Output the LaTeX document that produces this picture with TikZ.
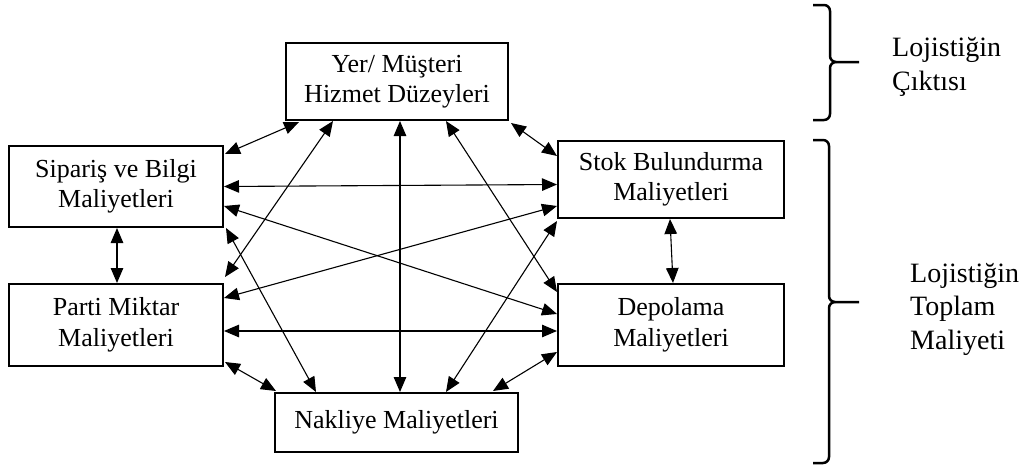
\documentclass[tikz,border=0pt]{standalone}
\usepackage{fontspec}
\setmainfont{Liberation Serif}
\usetikzlibrary{arrows.meta,calc}
\begin{document}
\begin{tikzpicture}[x=1pt,y=-1pt,
  costbox/.style={draw, line width=2pt, align=center, inner sep=0pt,
    font=\fontsize{26}{30.5}\selectfont},
  link/.style={line width=1.1pt,
    {Triangle[length=15pt,width=12.5pt]}-{Triangle[length=15pt,width=12.5pt]}},
  bracket/.style={line width=2.5pt, line join=round},
  sidelabel/.style={align=left, anchor=base west, inner sep=0pt,
    font=\fontsize{28}{33.5}\selectfont}]
\useasboundingbox (0,0) rectangle (1024,471);

% cost and output boxes
\node[costbox, minimum width=222pt, minimum height=77pt] (musteri) at (397,81.5) {Yer/ Müşteri\\Hizmet Düzeyleri};
\node[costbox, minimum width=214pt, minimum height=81pt] (siparis) at (116,186.5) {Sipariş ve Bilgi\\Maliyetleri};
\node[costbox, minimum width=214pt, minimum height=82pt] (parti) at (116,325) {Parti Miktar\\Maliyetleri};
\node[costbox, minimum width=226pt, minimum height=77pt] (stok) at (671,179.5) {Stok Bulundurma\\Maliyetleri};
\node[costbox, minimum width=226pt, minimum height=82pt] (depo) at (671,325) {Depolama\\Maliyetleri};
\node[costbox, minimum width=243pt, minimum height=59pt] (nakliye) at (396.5,422.5) {Nakliye Maliyetleri};

% two-way trade-off links between every pair of boxes
\draw[link] ($(musteri.south west)+(14,1)$) -- ($(siparis.north east)+(1,9)$);
\draw[link] ($(musteri.south east)+(2,2)$) -- ($(stok.north west)+(0,16)$);
\draw[link] ($(musteri.south)+(3,0)$) -- ($(nakliye.north)+(3.5,0)$);
\draw[link] ($(musteri.south west)+(48,0)$) -- ($(parti.north east)+(1,-6)$);
\draw[link] ($(musteri.south west)+(161,0)$) -- ($(depo.north west)+(0,9)$);
\draw[link] (siparis.east) -- ($(stok.west)+(0,5)$);
\draw[link] ($(siparis.east)+(0,19.5)$) -- ($(depo.west)+(0,-11)$);
\draw[link] ($(siparis.south east)+(2,0)$) -- ($(nakliye.north west)+(42,0)$);
\draw[link] ($(siparis.south)+(1,0)$) -- ($(parti.north)+(1,0)$);
\draw[link] ($(parti.north east)+(0,15)$) -- ($(stok.south west)+(0,-13)$);
\draw[link] ($(parti.east)+(0,6)$) -- ($(depo.west)+(0,6)$);
\draw[link] ($(parti.south east)+(1,-5)$) -- ($(nakliye.north west)+(2,-1)$);
\draw[link] ($(stok.south)+(-1,0)$) -- ($(depo.north)+(2,0)$);
\draw[link] ($(stok.south west)+(0,2)$) -- ($(nakliye.north west)+(172,0)$);
\draw[link] ($(depo.south west)+(0,-15)$) -- ($(nakliye.north east)+(-26,-1)$);

% grouping braces
\draw[bracket] (813,5) -- (824,5) to[out=0,in=90] (830,11) -- (830,56)
  to[out=-90,in=180] (836,62) -- (859,62);
\draw[bracket] (836,62) to[out=180,in=90] (830,68) -- (830,114)
  to[out=-90,in=0] (824,120) -- (813,120);
\draw[bracket] (813,140) -- (823,140) to[out=0,in=90] (829,146) -- (829,296)
  to[out=-90,in=180] (835,302) -- (859,302);
\draw[bracket] (835,302) to[out=180,in=90] (829,308) -- (829,457)
  to[out=-90,in=0] (823,463) -- (813,463);

% group labels (anchored on the baseline of their last line)
\node[sidelabel] (cikti) at (892,90) {Lojistiğin\\Çıktısı};
\node[sidelabel] (toplam) at (910,349) {Lojistiğin\\Toplam\\Maliyeti};
\end{tikzpicture}
\end{document}
